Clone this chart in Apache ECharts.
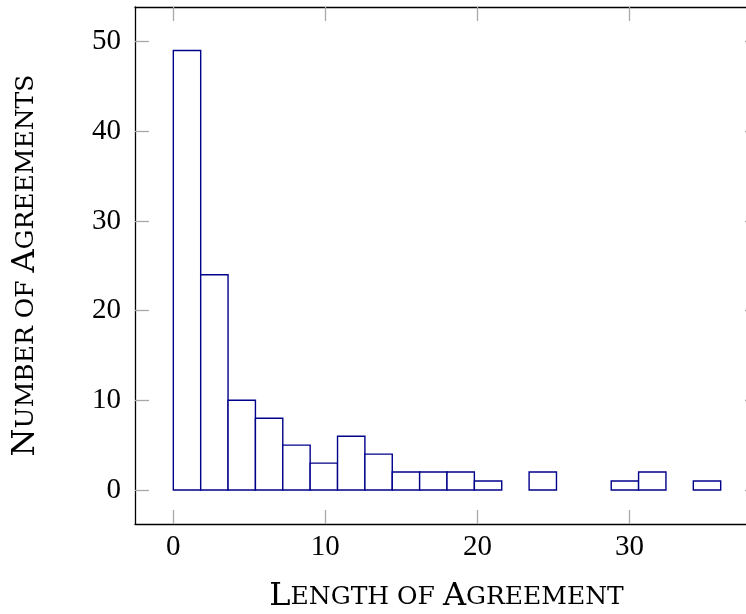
<!DOCTYPE html>
<html>
<head>
<meta charset="utf-8">
<script src="https://cdn.jsdelivr.net/npm/echarts@6/dist/echarts.min.js"></script>
<style>
html,body{margin:0;padding:0;background:#fff;}
#chart{width:746px;height:614px;}
</style>
</head>
<body>
<div id="chart"></div>
<script>
// Histogram bin edges (length of agreement) and counts
const binStarts = [0, 1.8, 3.6, 5.4, 7.2, 9, 10.8, 12.6, 14.4, 16.2, 18, 19.8, 21.6, 23.4, 25.2, 27, 28.8, 30.6, 32.4, 34.2];
const binEnds   = [1.8, 3.6, 5.4, 7.2, 9, 10.8, 12.6, 14.4, 16.2, 18, 19.8, 21.6, 23.4, 25.2, 27, 28.8, 30.6, 32.4, 34.2, 36];
const counts    = [49, 24, 10, 8, 5, 3, 6, 4, 2, 2, 2, 1, 0, 2, 0, 0, 1, 2, 0, 1];
const xTicks = [0, 10, 20, 30];
const yTicks = [0, 10, 20, 30, 40, 50];
const xRange = [-2.52, 38.52];
const yRange = [-3.79, 53.85];

const FONT = 'Liberation Serif';
const TFONT = 'DejaVu Serif';
const barColor = '#00008b';
const tickColor = '#a8a8a8';

const data = [];
for (let i = 0; i < counts.length; i++) {
  if (counts[i] > 0) data.push([binStarts[i], binEnds[i], counts[i]]);
}

const chart = echarts.init(document.getElementById('chart'), null, {renderer: 'canvas'});

function baseX(show, pos) {
  return {
    type: 'value', position: pos, min: xRange[0], max: xRange[1],
    axisLine: {show: true, onZero: false, lineStyle: {color: '#000', width: 1.3}},
    axisTick: {show: true, inside: true, length: 14, customValues: xTicks, lineStyle: {color: tickColor, width: 1.3}},
    axisLabel: {show: show, customValues: xTicks, margin: 9, color: '#000', fontFamily: FONT, fontSize: 29},
    splitLine: {show: false}
  };
}
function baseY(show, pos) {
  return {
    type: 'value', position: pos, min: yRange[0], max: yRange[1],
    axisLine: {show: true, onZero: false, lineStyle: {color: '#000', width: 1.3}},
    axisTick: {show: true, inside: true, length: 14, customValues: yTicks, lineStyle: {color: tickColor, width: 1.3}},
    axisLabel: {show: show, customValues: yTicks, margin: 14, color: '#000', fontFamily: FONT, fontSize: 29},
    splitLine: {show: false}
  };
}

const titleRich = {
  c: {fontFamily: TFONT, fontSize: 32, fill: '#000'},
  s: {fontFamily: TFONT, fontSize: 25, fill: '#000'}
};

const option = {
  backgroundColor: '#fff',
  animation: false,
  grid: {left: 135, top: 7, width: 624, height: 517, containLabel: false, outerBoundsMode: 'none'},
  xAxis: [baseX(true, 'bottom'), baseX(false, 'top')],
  yAxis: [baseY(true, 'left'), baseY(false, 'right')],
  graphic: [
    {
      type: 'text',
      x: 446.5, y: 597,
      style: {
        text: '{c|L}{s|ENGTH OF }{c|A}{s|GREEMENT}',
        align: 'center', verticalAlign: 'middle',
        rich: titleRich
      }
    },
    {
      type: 'text',
      x: 26, y: 265.5, rotation: Math.PI / 2,
      style: {
        text: '{c|N}{s|UMBER OF }{c|A}{s|GREEMENTS}',
        align: 'center', verticalAlign: 'middle',
        rich: titleRich
      }
    }
  ],
  series: [{
    type: 'custom',
    xAxisIndex: 0, yAxisIndex: 0,
    data: data,
    renderItem: function (params, api) {
      const p0 = api.coord([api.value(0), api.value(2)]);
      const p1 = api.coord([api.value(1), 0]);
      return {
        type: 'rect',
        shape: {x: p0[0], y: p0[1], width: p1[0] - p0[0], height: p1[1] - p0[1]},
        style: {fill: '#fff', stroke: barColor, lineWidth: 1.4}
      };
    }
  }]
};
chart.setOption(option);
</script>
</body>
</html>
